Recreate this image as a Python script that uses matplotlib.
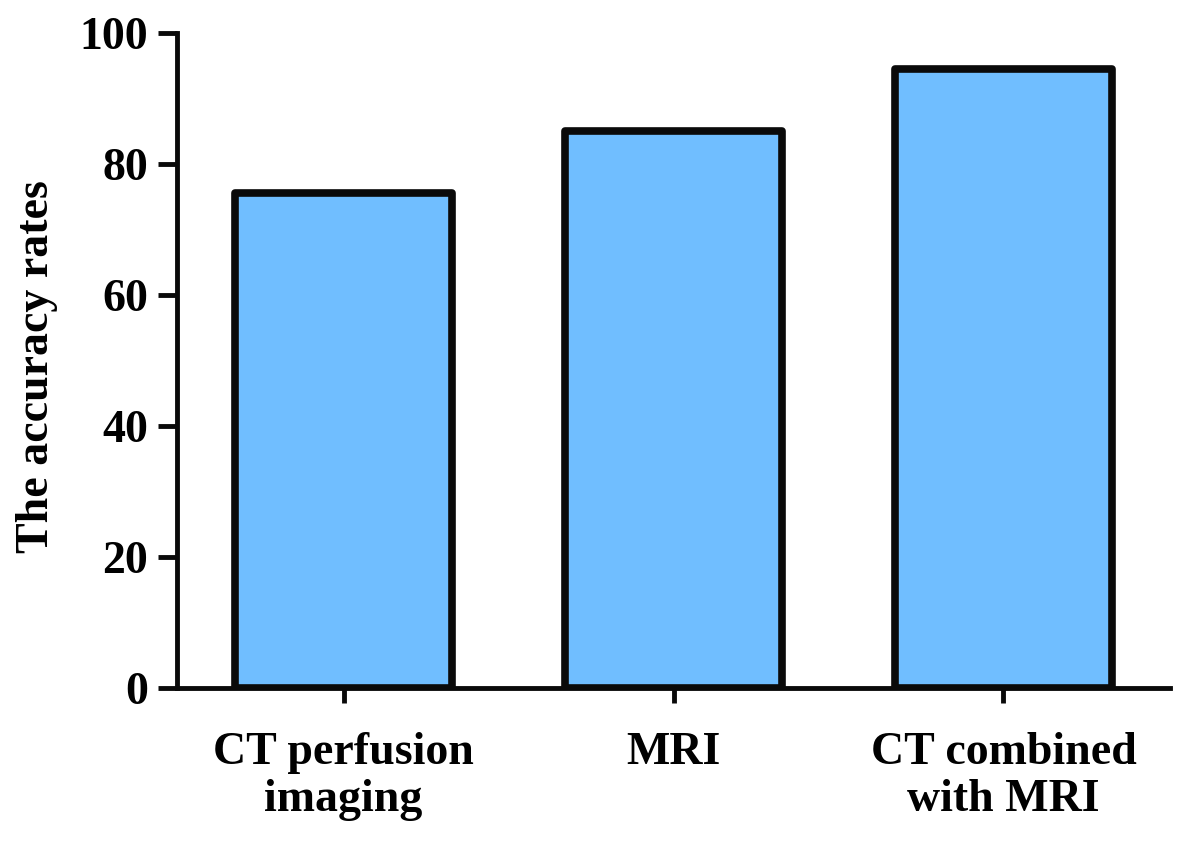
import matplotlib
matplotlib.use("Agg")
import matplotlib.pyplot as plt

categories = ["CT perfusion\nimaging", "MRI", "CT combined\nwith MRI"]
values = [75.6, 85.0, 94.5]
yticks = [0, 20, 40, 60, 80, 100]

plt.rcParams['font.family'] = ['Liberation Serif', 'DejaVu Serif']
plt.rcParams['font.weight'] = 'bold'

fig = plt.figure(figsize=(11.81, 8.43), dpi=100)
ax = fig.add_axes([0.1499, 0.1839, 0.8408, 0.777])

x = list(range(len(categories)))
ax.bar(x, values, width=0.66, color='#70BEFF', edgecolor='#0a0a0a', linewidth=5.5, joinstyle='round', zorder=3)

ax.set_xlim(-0.505, 2.505)
ax.set_ylim(0, 100)
ax.set_yticks(yticks)
ax.set_xticks(x)
ax.set_xticklabels(categories, fontsize=33, fontweight='bold', linespacing=1.13)
ax.set_yticklabels([str(v) for v in yticks], fontsize=33, fontweight='bold')
ax.set_ylabel("The accuracy rates", fontsize=33, fontweight='bold', labelpad=16)
ax.yaxis.set_label_coords(-0.12, 0.49)

for s in ['top', 'right']:
    ax.spines[s].set_visible(False)
for s in ['left', 'bottom']:
    ax.spines[s].set_linewidth(3.5)
    ax.spines[s].set_color('#0a0a0a')
    ax.spines[s].set_capstyle('projecting')
ax.tick_params(axis='y', length=14, width=3.5, pad=7, color='#0a0a0a')
ax.tick_params(axis='x', length=11, width=3.5, pad=21, color='#0a0a0a')

fig.savefig("out.png", dpi=100)
